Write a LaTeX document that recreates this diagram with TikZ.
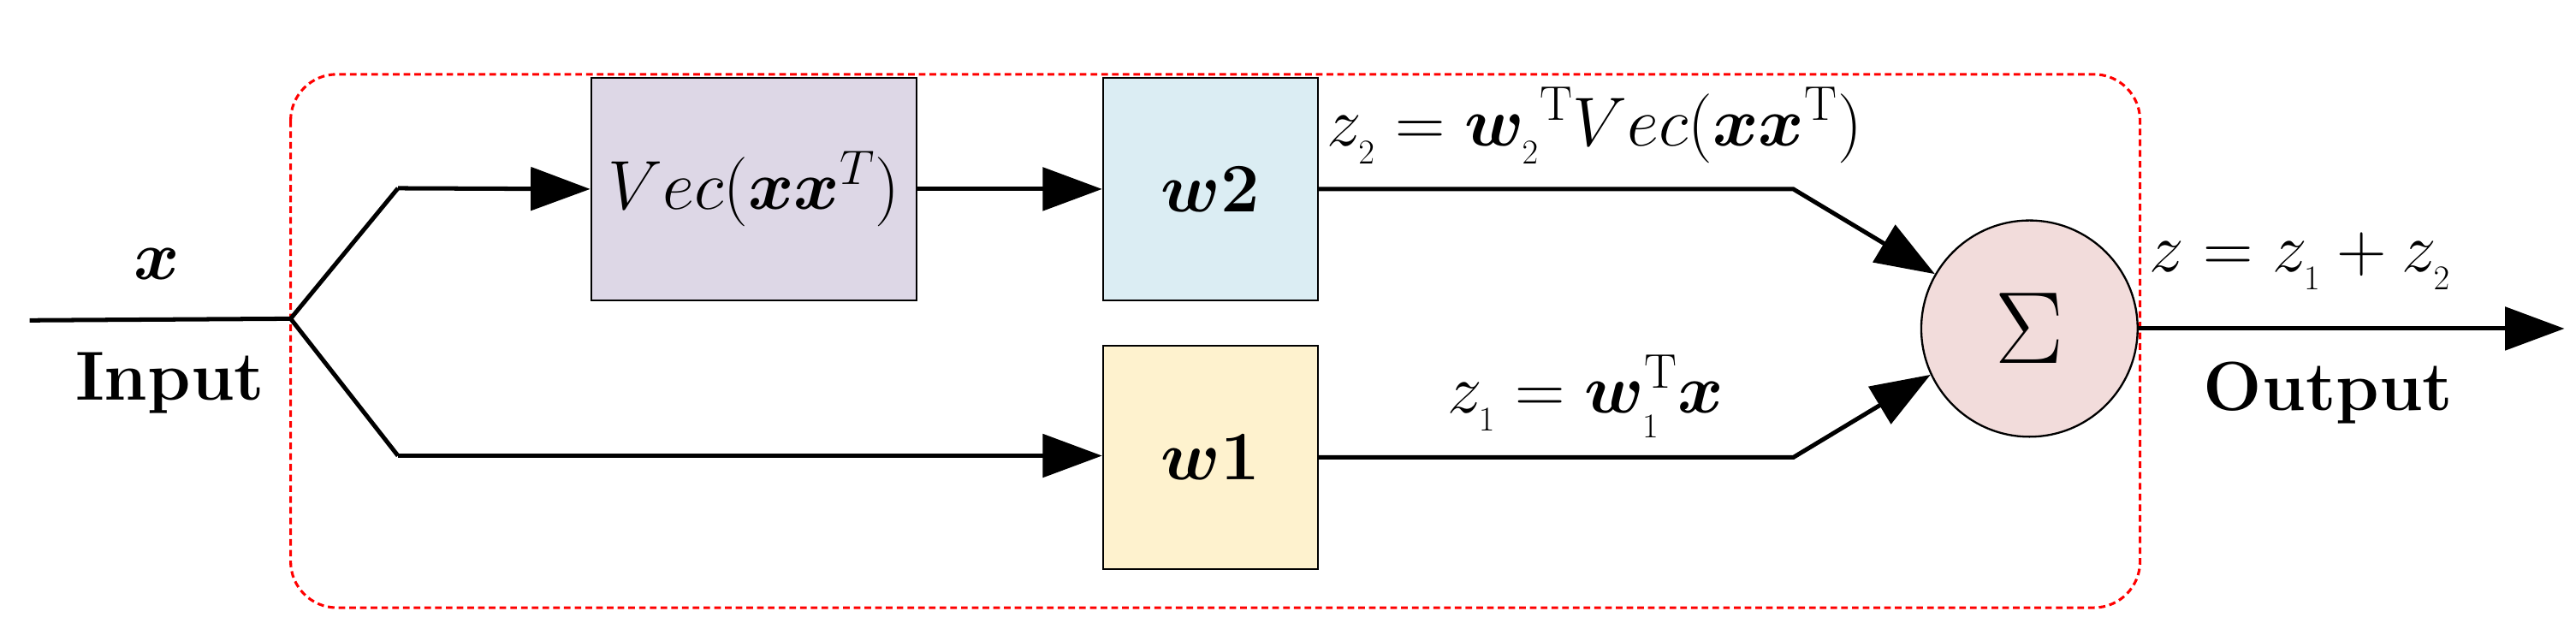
\documentclass[tikz,border=0pt]{standalone}
\usepackage{fix-cm}
\usepackage{amsmath,bm}
\usetikzlibrary{arrows.meta}
\begin{document}
\begin{tikzpicture}[x=1pt,y=-1pt,
  ln/.style={line width=2.6pt},
  arr/.style={ln,-{Triangle[length=36pt,width=26pt]}},
  blk/.style={draw,line width=1.2pt,minimum width=#1,minimum height=135pt,inner sep=0pt},
  lbl/.style={font=\fontsize{42}{46}\selectfont}]
\useasboundingbox (0,0) rectangle (1560,384.3);
\draw[red,dashed,line width=1.6pt,rounded corners=28pt,dash pattern=on 4pt off 2.5pt] (176,45) rectangle (1296,368);
\node[blk=197pt,fill={rgb,255:red,221;green,215;blue,230}] (vec) at (456.5,114.5) {};
\node[lbl] at (vec) {$Vec(\bm{x}\bm{x}^T)$};
\node[blk=130pt,fill={rgb,255:red,219;green,237;blue,243}] (w2) at (733,114.5) {};
\node[lbl] at (w2) {$\bm{w2}$};
\node[blk=130pt,fill={rgb,255:red,254;green,242;blue,206}] (w1) at (733,277) {};
\node[lbl] at (w1) {$\bm{w1}$};
\node[circle,draw,line width=1.2pt,minimum size=131pt,fill={rgb,255:red,242;green,220;blue,219},inner sep=0pt] (s) at (1229,199) {};
\node[font=\fontsize{62}{68}\selectfont] at (s) {$\Sigma$};
\coordinate (in) at (18,194);
\coordinate (sp) at (176,193);
\coordinate (u) at (241,114);
\coordinate (d) at (241,276);
\coordinate (u2) at (1086,114.5);
\coordinate (d2) at (1086,277);
\coordinate (out) at (1553,199);
\draw[ln] (in) -- (sp);
\draw[ln] (sp) -- (u);
\draw[ln] (sp) -- (d);
\draw[arr] (u) -- (vec.west);
\draw[arr] (d) -- (d-|w1.west);
\draw[arr] (vec.east) -- (w2.west);
\draw[arr] (w2.east) -- (u2) -- (s.150);
\draw[arr] (w1.east) -- (d2) -- (s.205);
\draw[arr] (s.east) -- (out);
\node[lbl] at (95,160) {$\bm{x}$};
\node[lbl,font=\fontsize{42}{46}\selectfont\bfseries] at (103,232) {Input};
\node[lbl,anchor=west] at (800,76) {$z_{_2}=\bm{w}_{_2}{}^{\mathrm{T}}Vec(\bm{x}\bm{x}^{\mathrm{T}})$};
\node[lbl] at (960,240) {$z_{_1}=\bm{w}_{_1}^{\mathrm{T}}\bm{x}$};
\node[lbl,anchor=west] at (1298,158) {$z=z_{_1}+z_{_2}$};
\node[lbl,font=\fontsize{42}{46}\selectfont\bfseries] at (1410,238) {Output};
\end{tikzpicture}
\end{document}
